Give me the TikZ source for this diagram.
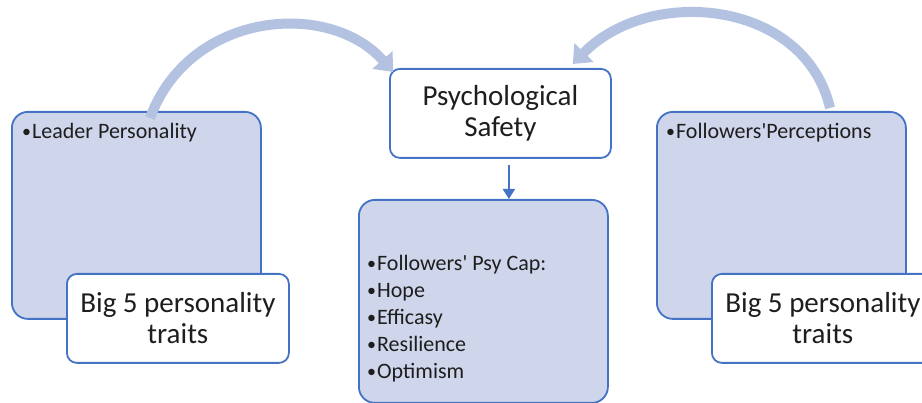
\documentclass[tikz,border=0pt]{standalone}
\usepackage{fontspec}
\setmainfont{Carlito}
\usetikzlibrary{arrows.meta}
\definecolor{boxblue}{RGB}{68,114,196}
\definecolor{boxfill}{RGB}{207,213,234}
\definecolor{arrowc}{RGB}{180,194,226}
\definecolor{txt}{RGB}{30,30,30}
\newcommand{\bul}{\raisebox{1pt}{\fontsize{18}{18}\selectfont\textbullet}\hspace{1pt}}
\begin{document}
\begin{tikzpicture}[x=1pt,y=-1pt,
 bigbox/.style={draw=boxblue, line width=1.8pt, fill=boxfill, rounded corners=16pt, minimum width=249pt, minimum height=207pt, inner sep=0pt, anchor=north west},
 whitebox/.style={draw=boxblue, line width=1.8pt, fill=white, rounded corners=10pt, minimum width=222pt, minimum height=89pt, anchor=north west, align=center, font=\fontsize{29}{31}\selectfont, text=txt, inner sep=0pt},
 smalltext/.style={font=\fontsize{22}{27}\selectfont, text=txt, inner sep=0pt, anchor=west, align=left},
 bigarrow/.style={draw=arrowc, line width=10pt, -{Triangle[length=16pt,width=26pt]}},
 downarrow/.style={draw=boxblue, line width=2pt, -{Triangle[length=10pt,width=12pt]}},
]
\useasboundingbox (0,0) rectangle (922,403);
% left group
\node[bigbox] (lbox) at (11,111) {};
\node[smalltext] (ltext) at (22,132.5) {\bul Leader Personality};
\node[whitebox] (lbig) at (66,273) {Big 5 personality\\traits};
% right group
\node[bigbox] (rbox) at (656,111) {};
\node[smalltext] (rtext) at (666,132.5) {\bul Followers\textquotesingle Perceptions};
\node[whitebox] (rbig) at (711,273) {Big 5 personality\\traits};
% centre
\node[whitebox, minimum width=221pt] (psych) at (389,68) {Psychological\\Safety};
\node[bigbox, minimum height=203pt] (cap) at (358,199) {};
\node[smalltext, anchor=north west] (captext) at (367,255) {\bul Followers\textquotesingle{} Psy Cap:\\\bul Hope\\\bul Efficasy\\\bul Resilience\\\bul Optimism};
% arrows
\coordinate (dtop) at ([shift={(8.5,6)}]psych.south);
\draw[downarrow] (dtop) -- (dtop |- cap.north);
\draw[bigarrow] ([shift={(139,7)}]lbox.north west) .. controls (190,10) and (330,0) .. ([shift={(4,4)}]psych.north west);
\draw[bigarrow] ([shift={(174,-3)}]rbox.north west) .. controls (805,0) and (650,-15) .. ([shift={(-39,-4)}]psych.north east);
\end{tikzpicture}
\end{document}
